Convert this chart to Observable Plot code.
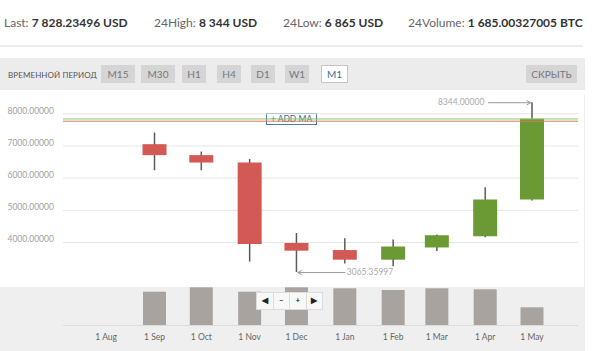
<!DOCTYPE html>
<html>
<head>
<meta charset="utf-8">
<script src="https://cdn.jsdelivr.net/npm/d3@7"></script>
<script src="https://cdn.jsdelivr.net/npm/@observablehq/plot@0.6"></script>
<style>
  html, body { margin: 0; padding: 0; background: #fff; font-family: Lato, "Open Sans", sans-serif; }
  #wrap { position: relative; width: 600px; height: 351px; overflow: hidden; background: #fff; }
  .hdr { position: absolute; top: 15px; font-size: 12px; color: #666; white-space: nowrap; }
  .hdr b { color: #333; font-weight: 700; }
  #sep { position: absolute; left: 0; top: 45px; width: 583px; height: 2px; background: #ececec; }
  #toolbar { position: absolute; left: 0; top: 58px; width: 585px; height: 32px; background: #ececec; }
  #tp { position: absolute; left: 8px; top: 12px; font-size: 8px; color: #555; letter-spacing: 0.1px; }
  .btn { position: absolute; top: 7px; height: 18px; line-height: 18px; text-align: center; font-size: 10px; color: #777; background: #d5d5d5; box-sizing: border-box; }
  .btn.on { background: #fff; border: 1px solid #c4c4c4; color: #3a6f95; line-height: 16px; }
  #chart { position: absolute; left: 0; top: 95px; width: 585px; height: 192px; background: #fff; }
  #chart svg, #vol svg { position: absolute; left: 0; top: 0; z-index: 2; }
  #addma { position: absolute; left: 266px; top: 18px; width: 51px; height: 12px; box-sizing: border-box; border: 1px solid #4d7fa6; background: #fff; color: #3d6d91; font-size: 8.5px; line-height: 10px; text-align: center; z-index: 1; white-space: nowrap; }
  #vol { position: absolute; left: 0; top: 287px; width: 585px; height: 64px; background: #efefef; }
  #nav { position: absolute; left: 257px; top: 5px; height: 17px; z-index: 3; display: flex; }
  #nav div { width: 17.5px; height: 17.5px; box-sizing: border-box; border: 1px solid #dcdcdc; margin-left: -1px; background: #f8f8f8; color: #222; font-size: 8px; font-weight: 700; line-height: 15px; text-align: center; }
  #edge { position: absolute; left: 584px; top: 95px; width: 1px; height: 256px; background: #eee; }
</style>
</head>
<body>
<div id="wrap">
  <div class="hdr" style="left:4px">Last: <b>7 828.23496 USD</b></div>
  <div class="hdr" style="left:154px">24High: <b>8 344 USD</b></div>
  <div class="hdr" style="left:283px">24Low: <b>6 865 USD</b></div>
  <div class="hdr" style="left:408px">24Volume: <b>1 685.00327005 BTC</b></div>
  <div id="sep"></div>
  <div id="toolbar">
    <div id="tp">ВРЕМЕННОЙ ПЕРИОД</div>
    <div class="btn" style="left:101px;width:34px">M15</div>
    <div class="btn" style="left:141px;width:34px">M30</div>
    <div class="btn" style="left:182px;width:24px">H1</div>
    <div class="btn" style="left:217px;width:24px">H4</div>
    <div class="btn" style="left:251px;width:24px">D1</div>
    <div class="btn" style="left:285px;width:24px">W1</div>
    <div class="btn on" style="left:321px;width:27px">M1</div>
    <div class="btn" style="left:526px;width:51px">СКРЫТЬ</div>
  </div>
  <div id="chart"><div id="addma">+ ADD MA</div></div>
  <div id="vol"><div id="nav"><div>&#9664;</div><div>&#8211;</div><div>+</div><div>&#9654;</div></div></div>
  <div id="edge"></div>
</div>
<script>
// ---- data ----
const months = ["2018-09-01","2018-10-01","2018-11-01","2018-12-01","2019-01-01","2019-02-01","2019-03-01","2019-04-01","2019-05-01"];
const open   = [7040, 6700, 6470, 3970, 3750, 3450, 3830, 4180, 5320];
const high   = [7400, 6810, 6580, 4280, 4120, 4080, 4230, 5700, 8344];
const low    = [6230, 6230, 3390, 3065.35997, 3330, 3250, 3720, 4150, 5290];
const close  = [6700, 6470, 3940, 3730, 3450, 3860, 4210, 5320, 7828.23496];
const volume = [87600, 99200, 87600, 99200, 96600, 92100, 96600, 94000, 46600];
const xTicks = ["2018-08-01","2018-09-01","2018-10-01","2018-11-01","2018-12-01","2019-01-01","2019-02-01","2019-03-01","2019-04-01","2019-05-01"];
const yTicks = [4000, 5000, 6000, 7000, 8000];
const priceLines = [7840, 7770];
const priceLineColors = ["#93c46f", "#cf7d5d"];

const candles = months.map((m, i) => ({date: new Date(m), open: open[i], high: high[i], low: low[i], close: close[i], volume: volume[i]}));
const maxC = candles[d3.maxIndex(candles, d => d.high)];
const minC = candles[d3.minIndex(candles, d => d.low)];
const annMax = [{x1: d3.utcDay.offset(maxC.date, -28), x2: maxC.date, y: maxC.high}];
const annMin = [{x1: d3.utcDay.offset(minC.date, 31), x2: minC.date, y: minC.low}];

const xScale = {type: "utc", domain: [new Date(months[0]), new Date(months[months.length - 1])], range: [154, 531.5]};
const RED = "#d35954", GREEN = "#6b9a34";

const main = Plot.plot({
  width: 585, height: 192,
  marginLeft: 63, marginRight: 7, marginTop: 0, marginBottom: 0,
  style: {background: "transparent", fontFamily: "Lato, sans-serif", overflow: "visible"},
  x: {...xScale, axis: null},
  y: {domain: [4000, 8000], range: [147, 18.3], axis: null},
  marks: [
    Plot.gridY(yTicks, {stroke: "#e6e6e6", strokeOpacity: 1}),
    Plot.axisY(yTicks, {tickSize: 0, tickPadding: 0, textAnchor: "start", dx: -56, dy: -3, fontSize: 8.5, color: "#a0a0a0", tickFormat: d => d.toFixed(5), label: null}),
    Plot.ruleX(candles, {x: "date", y1: "low", y2: "high", stroke: "#5a5a5a", strokeWidth: 1.5}),
    Plot.ruleX(candles, {x: "date", y1: "open", y2: "close", stroke: d => d.close >= d.open ? GREEN : RED, strokeWidth: 24}),
    ...priceLines.map((v, i) => Plot.ruleY([v], {stroke: priceLineColors[i], strokeWidth: 1})),
    Plot.arrow(annMax, {x1: "x1", x2: "x2", y1: "y", y2: "y", stroke: "#999", strokeWidth: 1, headLength: 6, insetEnd: 1.5}),
    Plot.text(annMax, {x: "x1", y: "y", text: d => d.y.toFixed(5), textAnchor: "end", dx: -4, fontSize: 8.5, fill: "#aaa"}),
    Plot.arrow(annMin, {x1: "x1", x2: "x2", y1: "y", y2: "y", stroke: "#999", strokeWidth: 1, headLength: 6, insetEnd: 1.5}),
    Plot.text(annMin, {x: "x1", y: "y", text: d => d.y.toFixed(5), textAnchor: "start", dx: 2, fontSize: 8.5, fill: "#aaa"})
  ]
});
document.getElementById("chart").appendChild(main);

const vol = Plot.plot({
  width: 585, height: 64,
  marginLeft: 63, marginRight: 7, marginTop: 0, marginBottom: 26,
  style: {background: "transparent", fontFamily: "Lato, sans-serif", overflow: "visible"},
  x: {...xScale, axis: null},
  y: {domain: [0, 100000], range: [38, 0], axis: null},
  marks: [
    Plot.ruleX(candles, {x: "date", y1: 0, y2: "volume", stroke: "#a9a3a0", strokeWidth: 23}),
    Plot.ruleY([0], {stroke: "#dcdcdc"}),
    Plot.axisX(xTicks.map(d => new Date(d)), {tickSize: 0, tickPadding: 8, fontSize: 8.5, color: "#666", tickFormat: d3.utcFormat("%-d %b"), label: null})
  ]
});
document.getElementById("vol").insertBefore(vol, document.getElementById("nav"));
</script>
</body>
</html>
